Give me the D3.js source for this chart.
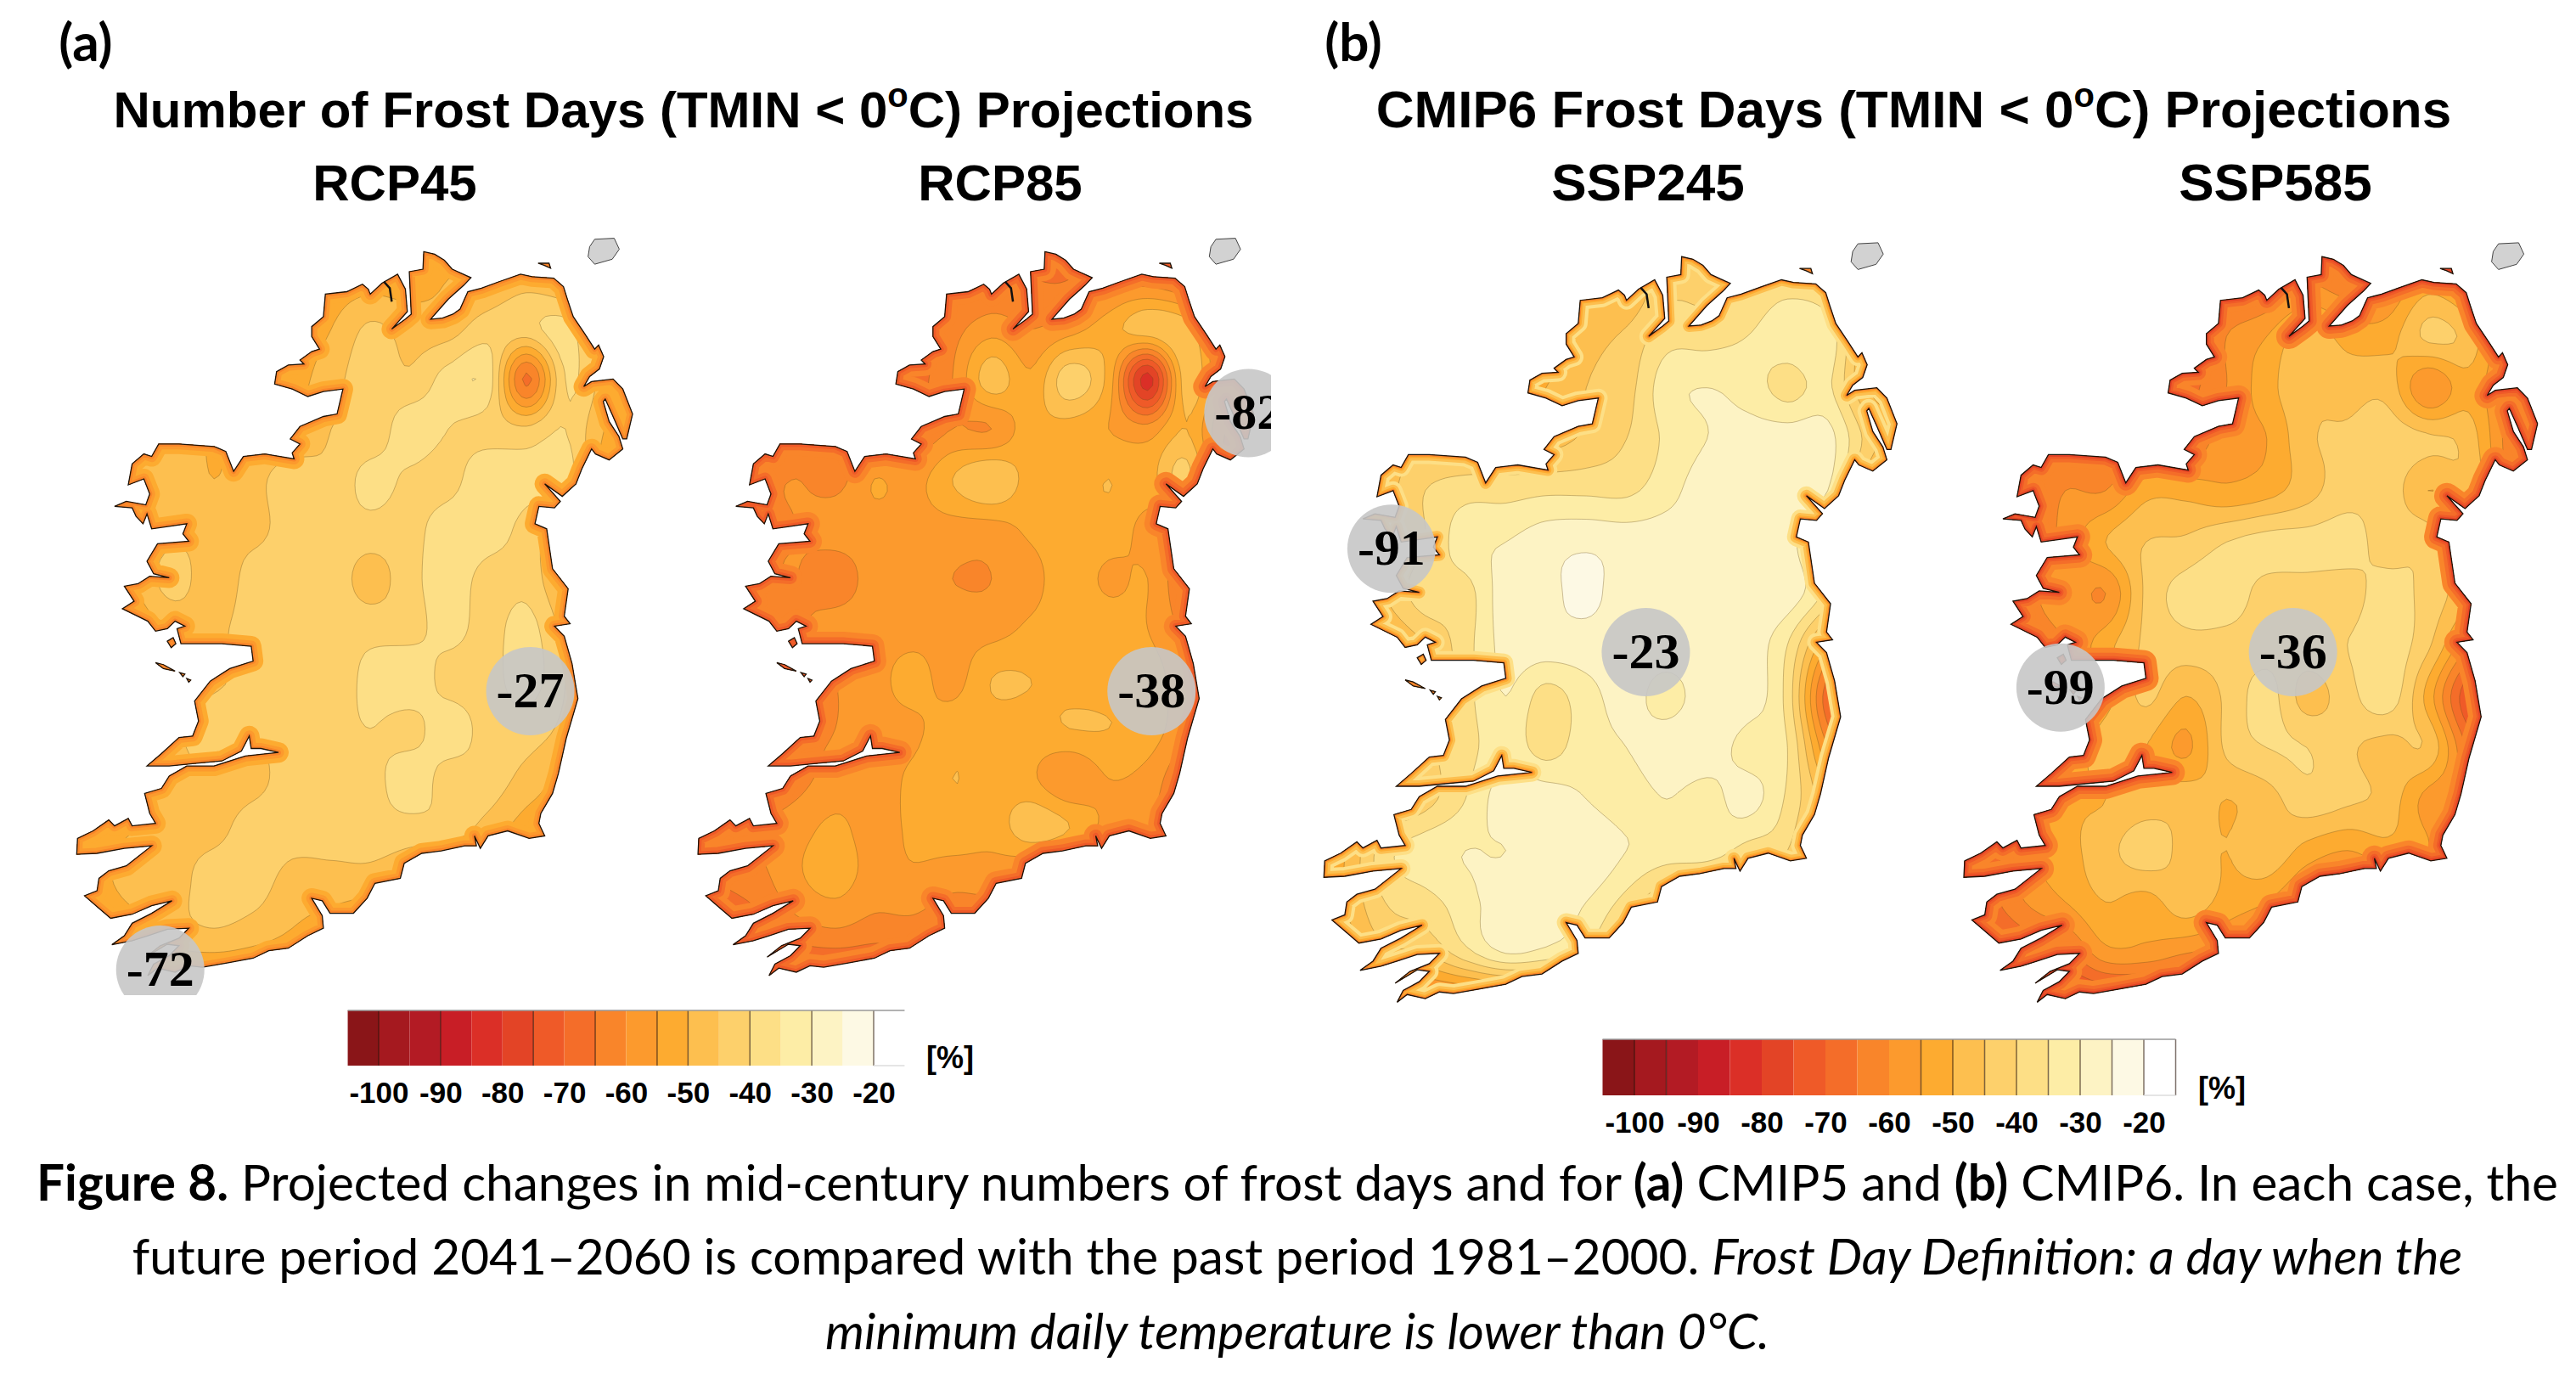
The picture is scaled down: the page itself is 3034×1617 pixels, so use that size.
<!DOCTYPE html>
<html>
<head>
<meta charset="utf-8">
<title>Figure 8 frost days</title>
<script src="https://cdn.jsdelivr.net/npm/d3@7"></script>
<style>
  html, body { margin: 0; background: #fff; }
  text { font-family: "Liberation Sans", Arial, sans-serif; }
</style>
</head>
<body>
<svg id="fig" width="3034" height="1617"></svg>
<script>
// ── Colour classes: class i covers levels[i-1]..levels[i] ──
const levels = d3.range(-100, -15, 5);
const classColors = ["#8a1518", "#a5191f", "#b31b24", "#c81e26", "#db2f27", "#e34426", "#ef5a28", "#f46d29", "#f9852a",
  "#fc9a2d", "#fdab30", "#fdbf4f", "#fdd06b", "#fddf86", "#fdeda6", "#fdf3c4", "#fdf9e4", "#ffffff"];
const legendTicks = [-100, -90, -80, -70, -60, -50, -40, -30, -20];

// ── Ireland outline, in map units (0-1500 both ways) ──
const coastMain = [[937,45],[965,50],[990,62],[1010,80],[1058,97],[1040,112],[1000,140],[955,180],[985,178],[1012,170],[1030,160],[1050,125],[1085,118],[1130,105],[1185,90],[1215,95],[1270,98],[1295,115],[1305,140],[1320,175],[1350,210],[1375,240],[1385,232],[1398,255],[1387,280],[1362,295],[1347,315],[1367,305],[1422,300],[1447,320],[1472,370],[1457,420],[1447,420],[1422,375],[1402,340],[1397,345],[1412,385],[1437,415],[1447,440],[1412,462],[1377,450],[1367,440],[1342,480],[1327,510],[1292,535],[1247,510],[1287,545],[1272,558],[1232,555],[1222,590],[1252,600],[1267,680],[1307,720],[1297,775],[1312,790],[1272,795],[1297,815],[1317,870],[1332,940],[1302,1020],[1282,1090],[1267,1130],[1237,1170],[1232,1190],[1247,1215],[1207,1220],[1152,1205],[1102,1215],[1082,1240],[1067,1215],[1072,1235],[1042,1235],[982,1245],[932,1250],[887,1270],[877,1300],[812,1310],[792,1340],[757,1370],[697,1370],[677,1345],[650,1340],[677,1375],[680,1400],[640,1415],[590,1440],[540,1445],[500,1460],[430,1470],[370,1478],[335,1475],[300,1488],[255,1480],[230,1495],[245,1472],[285,1455],[310,1435],[280,1432],[225,1458],[262,1435],[310,1420],[335,1400],[280,1402],[230,1415],[190,1425],[138,1433],[170,1415],[190,1390],[240,1370],[292,1345],[240,1355],[190,1372],[135,1380],[105,1360],[68,1335],[100,1325],[105,1300],[130,1285],[175,1275],[240,1235],[170,1240],[100,1250],[48,1252],[50,1220],[90,1205],[130,1183],[145,1195],[180,1180],[190,1195],[250,1190],[235,1170],[222,1130],[265,1120],[285,1095],[330,1075],[400,1075],[480,1055],[565,1048],[520,1040],[495,1040],[490,1015],[470,1045],[420,1065],[350,1070],[285,1075],[228,1075],[265,1050],[310,1018],[345,1015],[360,985],[350,945],[390,905],[440,880],[500,865],[495,835],[420,830],[340,830],[315,830],[305,800],[325,795],[300,785],[280,800],[250,805],[230,785],[165,760],[195,745],[170,715],[205,710],[235,695],[285,698],[245,690],[228,665],[255,630],[335,625],[320,610],[330,590],[285,595],[240,600],[228,570],[218,590],[200,575],[190,558],[145,555],[175,545],[225,552],[235,530],[220,500],[180,512],[190,470],[220,450],[240,455],[258,430],[310,430],[400,435],[430,445],[450,485],[475,455],[530,450],[605,460],[600,448],[620,430],[595,420],[620,395],[680,375],[715,370],[730,320],[680,325],[640,335],[600,320],[555,310],[560,285],[590,272],[630,270],[620,262],[650,245],[670,240],[650,215],[650,195],[680,175],[685,130],[740,125],[780,110],[795,120],[800,130],[830,108],[870,90],[890,120],[895,165],[855,200],[890,180],[905,170],[900,85],[935,80]];
const coastIslands = [
  [[250,868],[270,872],[300,885],[270,880]],
  [[312,888],[325,891],[320,896]],
  [[330,900],[340,903],[335,907]],
  [[280,825],[295,818],[302,830],[290,838]],
  [[1230,68],[1258,68],[1262,78],[1245,72]]
];
const rathlin = [[1375,20],[1425,18],[1438,40],[1420,60],[1375,70],[1358,55],[1362,35]];
const inlet = [[835,105],[850,118],[855,145]];

// ── Frost-day change [%]: rows every 100 units north to south, columns every 100 units west to east ──
const gridStep = 100;
const rcp45 = [
  [-50,-50,-50,-50,-50,-50,-50,-50,-50,-50,-50,-50,-50,-50,-50,-50],
  [-50,-50,-50,-50,-50,-50,-50,-52,-52,-52,-50,-50,-47,-50,-52,-52],
  [-50,-50,-50,-50,-50,-50,-52,-50,-44,-47,-47,-42,-42,-38,-50,-52],
  [-50,-50,-50,-50,-50,-52,-52,-47,-42,-44,-38,-37,-66,-40,-47,-52],
  [-50,-50,-50,-50,-50,-50,-50,-45,-44,-37,-40,-42,-44,-40,-50,-52],
  [-52,-52,-50,-47,-50,-47,-42,-44,-38,-41,-42,-36,-38,-38,-52,-52],
  [-52,-52,-50,-47,-47,-47,-42,-42,-42,-42,-37,-37,-42,-48,-52,-52],
  [-52,-52,-50,-42,-50,-42,-42,-42,-47,-42,-37,-42,-42,-50,-52,-52],
  [-52,-52,-52,-50,-47,-42,-42,-42,-42,-42,-38,-42,-38,-47,-55,-55],
  [-52,-52,-52,-52,-47,-42,-42,-44,-38,-36,-42,-42,-38,-45,-58,-58],
  [-52,-52,-52,-47,-40,-44,-42,-42,-40,-42,-37,-42,-42,-47,-58,-58],
  [-52,-52,-52,-47,-47,-47,-42,-42,-42,-37,-42,-42,-47,-52,-58,-58],
  [-55,-52,-50,-47,-47,-42,-42,-42,-42,-42,-42,-47,-52,-52,-55,-55],
  [-55,-52,-47,-47,-42,-42,-47,-47,-47,-50,-55,-55,-55,-55,-55,-55],
  [-55,-55,-52,-47,-45,-47,-50,-52,-55,-55,-55,-55,-55,-55,-55,-55],
  [-55,-55,-55,-55,-55,-55,-55,-55,-55,-55,-55,-55,-55,-55,-55,-55]
];
const rcp85 = [
  [-62,-62,-62,-62,-62,-62,-62,-62,-62,-62,-62,-62,-62,-62,-62,-62],
  [-62,-62,-62,-62,-62,-62,-62,-67,-65,-65,-65,-62,-62,-65,-65,-65],
  [-65,-65,-65,-65,-65,-65,-67,-62,-57,-60,-57,-52,-47,-47,-65,-67],
  [-65,-65,-65,-65,-65,-67,-67,-60,-47,-54,-42,-52,-82,-47,-62,-65],
  [-65,-65,-65,-65,-65,-65,-65,-60,-60,-52,-52,-55,-58,-50,-65,-65],
  [-67,-67,-62,-60,-62,-55,-57,-50,-45,-52,-52,-50,-52,-44,-67,-67],
  [-67,-67,-62,-60,-57,-57,-57,-57,-57,-54,-52,-52,-57,-62,-67,-67],
  [-67,-67,-62,-60,-64,-57,-57,-60,-60,-57,-52,-56,-55,-65,-67,-67],
  [-67,-67,-67,-62,-57,-57,-57,-57,-57,-54,-52,-52,-55,-62,-70,-70],
  [-67,-67,-67,-67,-60,-57,-53,-57,-50,-50,-52,-52,-52,-60,-72,-72],
  [-67,-67,-67,-62,-60,-57,-56,-52,-52,-52,-50,-50,-52,-60,-72,-72],
  [-67,-67,-67,-62,-58,-57,-54,-50,-52,-54,-60,-55,-57,-65,-70,-70],
  [-70,-65,-60,-57,-54,-57,-54,-52,-53,-47,-50,-57,-60,-65,-70,-70],
  [-70,-65,-62,-56,-53,-57,-56,-58,-58,-62,-65,-65,-65,-65,-65,-65],
  [-72,-70,-67,-62,-60,-62,-62,-65,-65,-65,-65,-65,-65,-65,-65,-65],
  [-72,-72,-72,-72,-72,-72,-72,-72,-72,-72,-72,-72,-72,-72,-72,-72]
];
const ssp245 = [
  [-47,-47,-47,-47,-47,-47,-47,-47,-47,-47,-47,-47,-47,-47,-47,-47],
  [-47,-47,-47,-47,-47,-47,-47,-50,-50,-42,-42,-40,-37,-40,-50,-50],
  [-47,-47,-47,-47,-47,-47,-52,-47,-44,-37,-37,-35,-32,-32,-50,-55],
  [-47,-47,-47,-47,-47,-52,-50,-45,-42,-32,-30,-32,-37,-34,-50,-55],
  [-47,-47,-47,-47,-47,-47,-47,-44,-40,-34,-30,-28,-27,-28,-42,-52],
  [-50,-50,-47,-40,-37,-37,-36,-36,-36,-32,-27,-27,-27,-30,-50,-60],
  [-50,-50,-47,-40,-32,-30,-27,-26,-27,-27,-27,-27,-28,-40,-55,-60],
  [-50,-50,-45,-37,-37,-27,-26,-24,-27,-27,-27,-27,-27,-37,-55,-60],
  [-50,-50,-50,-45,-37,-28,-27,-27,-27,-27,-27,-27,-35,-55,-70,-75],
  [-50,-50,-50,-47,-37,-30,-37,-32,-28,-32,-27,-27,-37,-68,-78,-80],
  [-50,-50,-50,-42,-37,-32,-37,-32,-30,-27,-27,-32,-35,-60,-78,-80],
  [-50,-50,-47,-42,-35,-27,-27,-30,-32,-30,-32,-28,-36,-50,-70,-70],
  [-55,-50,-37,-32,-30,-30,-27,-26,-30,-32,-32,-37,-40,-55,-65,-65],
  [-60,-50,-40,-37,-32,-27,-27,-30,-37,-45,-50,-50,-50,-50,-50,-50],
  [-65,-55,-47,-45,-37,-30,-32,-37,-47,-50,-50,-50,-50,-50,-50,-50],
  [-65,-65,-65,-65,-65,-65,-65,-65,-65,-65,-65,-65,-65,-65,-65,-65]
];
const ssp585 = [
  [-62,-62,-62,-62,-62,-62,-62,-62,-62,-62,-62,-62,-62,-62,-62,-62],
  [-62,-62,-62,-62,-62,-62,-62,-67,-65,-60,-62,-60,-52,-57,-65,-67],
  [-65,-65,-65,-65,-65,-65,-70,-60,-55,-47,-52,-52,-44,-47,-62,-70],
  [-65,-65,-65,-65,-65,-70,-67,-60,-52,-46,-47,-47,-60,-52,-62,-70],
  [-65,-65,-65,-65,-65,-65,-65,-57,-55,-46,-44,-42,-44,-47,-62,-70],
  [-67,-67,-65,-60,-60,-52,-52,-54,-52,-47,-42,-42,-50,-47,-62,-70],
  [-67,-67,-65,-58,-50,-45,-44,-40,-38,-38,-38,-42,-42,-57,-68,-70],
  [-67,-67,-62,-57,-60,-44,-38,-37,-42,-42,-42,-38,-42,-50,-70,-70],
  [-70,-70,-65,-60,-52,-44,-42,-42,-42,-42,-40,-37,-44,-60,-75,-78],
  [-70,-70,-70,-62,-52,-44,-50,-44,-38,-47,-42,-37,-52,-74,-82,-85],
  [-70,-70,-70,-57,-47,-50,-56,-44,-40,-40,-44,-47,-46,-66,-82,-85],
  [-70,-70,-62,-52,-50,-48,-47,-50,-47,-42,-44,-47,-57,-62,-78,-78],
  [-75,-70,-57,-52,-47,-42,-47,-50,-46,-52,-55,-52,-55,-65,-75,-75],
  [-75,-68,-60,-55,-50,-52,-47,-52,-55,-62,-65,-65,-65,-65,-65,-65],
  [-78,-75,-70,-67,-57,-57,-60,-62,-65,-65,-65,-65,-65,-65,-65,-65],
  [-78,-78,-78,-78,-78,-78,-78,-78,-78,-78,-78,-78,-78,-78,-78,-78]
];

// ── Panels ──
const panels = [
  { name: "RCP45", grid: rcp45, x0: 68.3, x1: 757.9, y0: 270, y1: 1152, coast: [[24,-52],[13,-57],[6,-62]],
    spots: [{ u: 1210, v: 925, label: "-27" }, { u: 262, v: 1483, label: "-72", clipBottom: 1172 }] },
  { name: "RCP85", grid: rcp85, x0: 800, x1: 1489.6, y0: 270, y1: 1152, coast: [[28,-62],[15,-67],[7,-72]],
    spots: [{ u: 1210, v: 925, label: "-38" }, { u: 1458, v: 368, label: "-82", clipRight: 1497 }] },
  { name: "SSP245", grid: ssp245, x0: 1536.5, x1: 2247.5, y0: 275, y1: 1183.4, coast: [[22,-37],[14,-47],[8,-52],[4,-62]],
    spots: [{ u: 216, v: 613, label: "-91" }, { u: 848, v: 814, label: "-23" }] },
  { name: "SSP585", grid: ssp585, x0: 2290.2, x1: 3002, y0: 275, y1: 1183.4, coast: [[30,-62],[18,-67],[10,-72],[5,-77]],
    spots: [{ u: 288, v: 883, label: "-99" }, { u: 865, v: 814, label: "-36" }] }
];

const svg = d3.select("#fig");
const defs = svg.append("defs");

// smooth the coarse grid for contouring, the grid values stay on their nodes
const fine = 8;
function catmull(a, b, c, d, t) {
  return 0.5 * (2 * b + (c - a) * t + (2 * a - 5 * b + 4 * c - d) * t * t + (3 * b - a - 3 * c + d) * t * t * t);
}
function refine(grid) {
  const nr = grid.length, nc = grid[0].length;
  const w = (nc - 1) * fine + 1, h = (nr - 1) * fine + 1;
  const at = (r, c) => grid[Math.max(0, Math.min(nr - 1, r))][Math.max(0, Math.min(nc - 1, c))];
  const out = new Array(w * h);
  for (let j = 0; j < h; j++) {
    const r = Math.floor(j / fine), ty = j / fine - r;
    for (let i = 0; i < w; i++) {
      const c = Math.floor(i / fine), tx = i / fine - c;
      const col = [-1, 0, 1, 2].map(dr => catmull(at(r + dr, c - 1), at(r + dr, c), at(r + dr, c + 1), at(r + dr, c + 2), tx));
      out[j * w + i] = catmull(col[0], col[1], col[2], col[3], ty);
    }
  }
  return { w, h, values: out };
}
const colorOf = d3.scaleThreshold().domain(levels).range(classColors);

panels.forEach(function (p, idx) {
  const x = d3.scaleLinear().domain([0, 1500]).range([p.x0, p.x1]);
  const y = d3.scaleLinear().domain([0, 1500]).range([p.y0, p.y1]);
  const line = d3.line().x(d => x(d[0])).y(d => y(d[1]));
  const closed = pts => line(pts) + "Z";
  const landPath = closed(coastMain) + coastIslands.map(closed).join("");

  defs.append("clipPath").attr("id", "land" + idx).append("path").attr("d", landPath);

  const g = svg.append("g");
  const land = g.append("g").attr("clip-path", `url(#land${idx})`);

  // filled contours
  const field = refine(p.grid);
  const toScreen = d3.geoTransform({
    point: function (fx, fy) {
      this.stream.point(x((fx - 0.5) * gridStep / fine), y((fy - 0.5) * gridStep / fine));
    }
  });
  const contourPath = d3.geoPath(toScreen);
  land.append("rect").attr("x", p.x0 - 5).attr("y", p.y0 - 5)
    .attr("width", p.x1 - p.x0 + 10).attr("height", p.y1 - p.y0 + 10).attr("fill", classColors[0]);
  const contours = d3.contours().size([field.w, field.h]).thresholds(levels)(field.values);
  land.selectAll("path.band").data(contours).join("path")
    .attr("class", "band")
    .attr("d", contourPath)
    .attr("fill", d => colorOf(d.value))
    .attr("stroke", "rgba(110,80,30,0.35)")
    .attr("stroke-width", 1);

  // darker rim along the coast
  p.coast.forEach(function (c) {
    land.append("path").attr("d", landPath).attr("fill", "none")
      .attr("stroke", colorOf(c[1])).attr("stroke-width", c[0]).attr("stroke-linejoin", "round");
  });

  g.append("path").attr("d", landPath).attr("fill", "none")
    .attr("stroke", "#1c1208").attr("stroke-width", 1.3);
  g.append("path").attr("d", line(inlet)).attr("fill", "none").attr("stroke", "#111").attr("stroke-width", 2.5);
  g.append("path").attr("d", closed(rathlin)).attr("fill", "#d2d2d2").attr("stroke", "#444").attr("stroke-width", 1);

  // spot values
  p.spots.forEach(function (s, k) {
    const sg = svg.append("g");
    if (s.clipBottom || s.clipRight) {
      const id = `spot${idx}-${k}`;
      const right = s.clipRight || 3034, bottom = s.clipBottom || 1617;
      defs.append("clipPath").attr("id", id).append("rect").attr("x", 0).attr("y", 0).attr("width", right).attr("height", bottom);
      sg.attr("clip-path", `url(#${id})`);
    }
    sg.append("circle").attr("cx", x(s.u)).attr("cy", y(s.v)).attr("r", 52)
      .attr("fill", "#c6c6c6").attr("fill-opacity", 0.9);
    sg.append("text").attr("x", x(s.u)).attr("y", y(s.v) + 19).attr("text-anchor", "middle")
      .style("font-family", '"Liberation Serif", serif').attr("font-weight", "bold").attr("font-size", 60)
      .attr("fill", "#000").text(s.label);
  });
});

// ── Legends ──
const legends = [
  { x100: 446, x20: 1029, top: 1190, bottom: 1255, unitX: 1119, unitY: 1258, dark: [-100,-90,-75,-65,-55,-50,-40,-30,-20] },
  { x100: 1925, x20: 2525, top: 1224, bottom: 1290, unitX: 2617, unitY: 1294, dark: [-100,-95,-55,-50,-45,-40,-35,-30,-25,-20,-15] }
];
legends.forEach(function (l) {
  const sx = d3.scaleLinear().domain([-100, -20]).range([l.x100, l.x20]);
  const g = svg.append("g");
  const edges = [-105].concat(levels, [-15]);
  g.selectAll("rect").data(classColors).join("rect")
    .attr("x", (d, i) => sx(edges[i])).attr("y", l.top)
    .attr("width", (d, i) => sx(edges[i + 1]) - sx(edges[i])).attr("height", l.bottom - l.top)
    .attr("fill", d => d);
  g.selectAll("line.sep").data(l.dark).join("line").attr("class", "sep")
    .attr("x1", d => sx(d)).attr("x2", d => sx(d)).attr("y1", l.top).attr("y2", l.bottom)
    .attr("stroke", "rgba(40,20,10,0.6)").attr("stroke-width", 1.5);
  g.append("line").attr("x1", sx(-105)).attr("x2", sx(-15)).attr("y1", l.top).attr("y2", l.top)
    .attr("stroke", "#999").attr("stroke-width", 1.5);
  g.append("line").attr("x1", sx(-20)).attr("x2", sx(-15)).attr("y1", l.bottom).attr("y2", l.bottom)
    .attr("stroke", "#ddd").attr("stroke-width", 1.5);

  const axis = svg.append("g").attr("transform", `translate(0,${l.bottom + 2})`)
    .call(d3.axisBottom(sx).tickValues(legendTicks).tickFormat(d => String(d)).tickSize(0).tickPadding(17));
  axis.select(".domain").remove();
  axis.selectAll("text").attr("font-size", 35).attr("font-weight", "bold").attr("fill", "#000")
    .style("font-family", '"Liberation Sans", Arial, sans-serif');

  svg.append("text").attr("x", l.unitX).attr("y", l.unitY).attr("text-anchor", "middle")
    .attr("font-size", 36).attr("font-weight", "bold").text("[%]");
});

// ── Headings ──
function heading(cx, prefix, size) {
  const t = svg.append("text").attr("x", cx).attr("y", 150).attr("text-anchor", "middle")
    .attr("font-size", size).attr("font-weight", "bold").attr("fill", "#000");
  t.append("tspan").text(prefix + " (TMIN < 0");
  t.append("tspan").attr("dy", -24).attr("font-size", 40).text("o");
  t.append("tspan").attr("dy", 24).text("C) Projections");
}
heading(805, "Number of Frost Days", 60);
heading(2254, "CMIP6 Frost Days", 62);

const scenarioNames = ["RCP45", "RCP85", "SSP245", "SSP585"];
const scenarioCentres = [465, 1178, 1941, 2680];
const scenarioSizes = [60, 60, 62, 62];
svg.selectAll("text.scenario").data(scenarioNames).join("text").attr("class", "scenario")
  .attr("x", (d, i) => scenarioCentres[i]).attr("y", 236).attr("text-anchor", "middle")
  .attr("font-size", (d, i) => scenarioSizes[i]).attr("font-weight", "bold").attr("fill", "#000").text(d => d);

const capFont = "Lato, sans-serif";
[["(a)", 101], ["(b)", 1594]].forEach(function (d) {
  svg.append("text").attr("x", d[1]).attr("y", 72).attr("text-anchor", "middle")
    .style("font-family", capFont).attr("font-weight", "bold").attr("font-size", 62).text(d[0]);
});

// ── Caption ──
const captionLines = [
  { y: 1414, parts: [["Figure 8.", "b"], [" Projected changes in mid-century numbers of frost days and for ", ""], ["(a)", "b"], [" CMIP5 and ", ""], ["(b)", "b"], [" CMIP6. In each case, the", ""]] },
  { y: 1501, parts: [["future period 2041–2060 is compared with the past period 1981–2000. ", ""], ["Frost Day Definition: a day when the", "i"]] },
  { y: 1589, parts: [["minimum daily temperature is lower than 0°C.", "i"]] }
];
captionLines.forEach(function (c) {
  const t = svg.append("text").attr("x", 1528).attr("y", c.y).attr("text-anchor", "middle")
    .style("font-family", capFont).attr("font-size", 58.5).attr("fill", "#000");
  c.parts.forEach(function (s) {
    t.append("tspan").attr("font-weight", s[1] === "b" ? "bold" : "normal")
      .attr("font-style", s[1] === "i" ? "italic" : "normal").text(s[0]);
  });
});
</script>
</body>
</html>
